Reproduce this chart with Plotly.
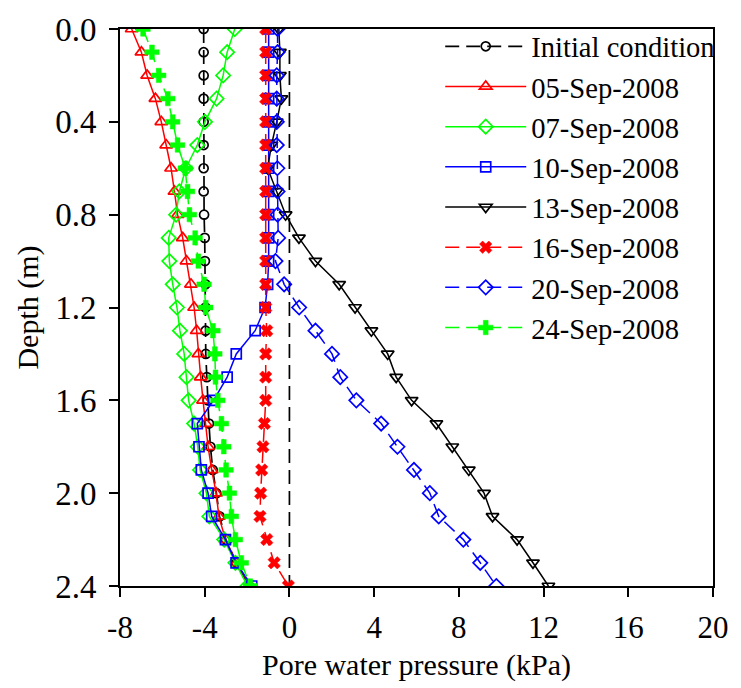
import plotly.graph_objects as go

# Depth below surface (m)
depth = [0.0, 0.1, 0.2, 0.3, 0.4, 0.5, 0.6, 0.7, 0.8, 0.9, 1.0, 1.1, 1.2,
         1.3, 1.4, 1.5, 1.6, 1.7, 1.8, 1.9, 2.0, 2.1, 2.2, 2.3, 2.4]

# Pore water pressure profiles (kPa)
initial = [-4.05, -4.05, -4.05, -4.05, -4.05, -4.05, -4.05, -4.05, -4.03, -4.00,
           -3.99, -3.96, -3.96, -3.96, -3.95, -3.90, -3.86, -3.80, -3.73, -3.62,
           -3.45, -3.30, -3.00, -2.50, -1.90]
sep05 = [-7.45, -6.99, -6.72, -6.33, -6.05, -5.82, -5.59, -5.43, -5.28, -5.04,
         -4.86, -4.65, -4.50, -4.38, -4.30, -4.19, -4.08, -3.95, -3.84, -3.67,
         -3.46, -3.33, -3.02, -2.48, -1.85]
sep07 = [-2.58, -2.94, -3.13, -3.44, -3.99, -4.35, -4.89, -5.20, -5.35, -5.70,
         -5.67, -5.51, -5.31, -5.17, -4.97, -4.86, -4.76, -4.50, -4.33, -4.22,
         -3.92, -3.78, -3.08, -2.55, -1.98]
sep10 = [-0.98, -0.98, -0.98, -0.98, -0.98, -0.98, -0.98, -0.98, -0.98, -0.98,
         -0.98, -1.03, -1.15, -1.62, -2.51, -2.94, -3.58, -4.35, -4.27, -4.16,
         -3.84, -3.67, -3.02, -2.52, -1.78]
sep13 = [-0.50, -0.45, -0.45, -0.38, -0.60, -0.85, -1.03, -0.60, -0.18, 0.45,
         1.23, 2.35, 3.10, 3.87, 4.64, 5.04, 5.77, 6.94, 7.69, 8.47,
         9.19, 9.59, 10.75, 11.50, 12.23]
sep16 = [-1.12, -1.12, -1.12, -1.12, -1.12, -1.12, -1.12, -1.12, -1.12, -1.12,
         -1.12, -1.12, -1.12, -1.07, -1.12, -1.12, -1.12, -1.18, -1.25, -1.31,
         -1.36, -1.39, -1.07, -0.72, -0.05]
sep20 = [-0.56, -0.56, -0.60, -0.60, -0.60, -0.60, -0.57, -0.56, -0.56, -0.53,
         -0.66, -0.25, 0.46, 1.23, 2.01, 2.40, 3.16, 4.33, 5.10, 5.88,
         6.63, 7.05, 8.21, 9.01, 9.77]
sep24 = [-6.91, -6.49, -6.17, -5.74, -5.51, -5.28, -4.92, -4.81, -4.72, -4.45,
         -4.30, -4.03, -3.95, -3.61, -3.52, -3.49, -3.38, -3.21, -3.10, -2.99,
         -2.83, -2.74, -2.55, -2.27, -1.85]

# Zero-pressure reference line
zero_depth = [0.09, 2.4]
zero_pressure = [0, 0]

x_ticks = [-8, -4, 0, 4, 8, 12, 16, 20]
x_tick_labels = ["-8", "-4", "0", "4", "8", "12", "16", "20"]
y_ticks = [0.0, 0.4, 0.8, 1.2, 1.6, 2.0, 2.4]
y_tick_labels = ["0.0", "0.4", "0.8", "1.2", "1.6", "2.0", "2.4"]

FONT = "Liberation Serif"

series = [
    ("Initial condition", initial, "black", "14px,7px", "circle-open", 9, 1.7),
    ("05-Sep-2008", sep05, "#FF0000", "solid", "triangle-up-open", 11, 1.5),
    ("07-Sep-2008", sep07, "#00FF00", "solid", "diamond-open", 11, 1.5),
    ("10-Sep-2008", sep10, "#0000FF", "solid", "square-open", 10, 1.5),
    ("13-Sep-2008", sep13, "black", "solid", "triangle-down-open", 11, 1.5),
    ("16-Sep-2008", sep16, "#FF0000", "14px,7px", "x", 11, 1.5),
    ("20-Sep-2008", sep20, "#0000FF", "14px,7px", "diamond-open", 11, 1.5),
    ("24-Sep-2008", sep24, "#00FF00", "14px,7px", "cross", 12, 1.5),
]

fig = go.Figure()

fig.add_trace(go.Scatter(
    x=zero_pressure, y=zero_depth, mode="lines",
    line=dict(color="black", width=1.7, dash="14px,7px"),
    showlegend=False, hoverinfo="skip",
))

for name, vals, color, dash, symbol, size, lw in series:
    filled = not symbol.endswith("-open")
    fig.add_trace(go.Scatter(
        x=vals, y=depth, name=name, mode="lines+markers",
        line=dict(color=color, width=lw, dash=dash),
        marker=dict(symbol=symbol, size=size, color=color,
                    line=dict(color=color, width=1.7 if not filled else 0.5)),
    ))

axis_common = dict(
    showgrid=False, zeroline=False, showline=True, linecolor="black",
    linewidth=2, mirror=True, ticks="outside", ticklen=9, tickwidth=2,
    tickcolor="black",
)

fig.update_layout(
    width=741, height=688,
    margin=dict(l=120, r=21, t=22, b=101),
    paper_bgcolor="white", plot_bgcolor="white",
    font=dict(family=FONT, size=28, color="black"),
    xaxis=dict(range=[-8, 20], tickvals=x_ticks, ticktext=x_tick_labels,
               ticklabelstandoff=4,
               tickfont=dict(family=FONT, size=31, color="black"),
               title=dict(text="Pore water pressure (kPa)",
                          font=dict(family=FONT, size=30), standoff=10),
               **axis_common),
    yaxis=dict(range=[2.4, 0], tickvals=y_ticks, ticktext=y_tick_labels,
               ticklabelstandoff=6,
               tickfont=dict(family=FONT, size=33, color="black"),
               title=dict(text="Depth (m)",
                          font=dict(family=FONT, size=30), standoff=8),
               **axis_common),
    legend=dict(x=0.54, y=1.014, xanchor="left", yanchor="top",
                bgcolor="rgba(0,0,0,0)", borderwidth=0,
                font=dict(family=FONT, size=28.6, color="black"),
                itemwidth=81, tracegroupgap=0),
)

fig.write_html("out.html")
